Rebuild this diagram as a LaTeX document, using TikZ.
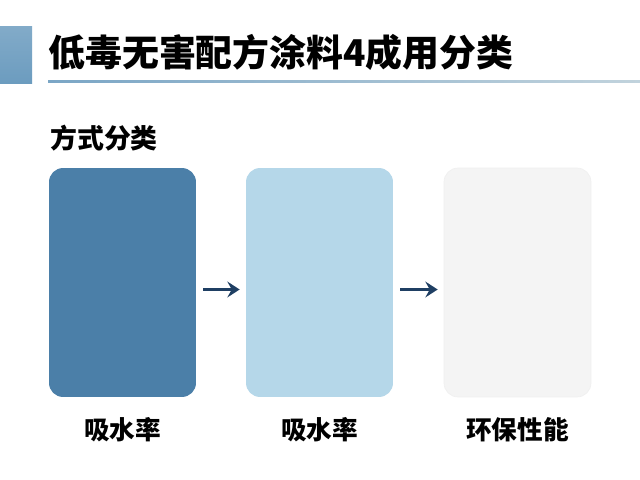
\documentclass[tikz,border=0pt]{standalone}
\usepackage{fontspec}
\newfontfamily\cjk{Noto Sans CJK SC}
\usetikzlibrary{positioning,arrows.meta,calc}
\definecolor{barblue}{HTML}{6C9CBF}
\definecolor{rulegray}{HTML}{A7C0CE}
\definecolor{deepblue}{HTML}{4B7FA8}
\definecolor{paleblue}{HTML}{B5D7E9}
\definecolor{offwhite}{HTML}{F4F4F4}
\definecolor{navy}{HTML}{1F3F63}

\begin{document}
\begin{tikzpicture}[
x=0.02cm, y=-0.02cm,
card/.style={
  rounded corners=8pt,
  minimum width=2.94cm,
  minimum height=4.58cm,
  inner sep=0pt},
caption/.style={
  font=\cjk\bfseries\fontsize{14.6pt}{17pt}\selectfont,
  text=black},
flow/.style={
  draw=navy,
  line width=1.5pt,
  -{Stealth[length=7pt,width=9pt,inset=2.5pt]},
  shorten <=0.14cm,
  shorten >=0.12cm}
]
\useasboundingbox[fill=white] (0,0) rectangle (640,480);
% header
\shade[top color=barblue!85, bottom color=barblue] (0,26) rectangle (32,83);
\node[anchor=west, inner sep=0pt,
  font=\cjk\bfseries\fontsize{21pt}{25pt}\selectfont] (title) at (48,52)
  {低毒无害配方涂料4成用分类};
\shade[left color=barblue!90, right color=rulegray!70] (48,80.5) rectangle (640,82);
\node[anchor=west, inner sep=0pt,
  font=\cjk\bfseries\fontsize{15.3pt}{18pt}\selectfont] (sub) at (50,138)
  {方式分类};
% cards
\node[card, fill=deepblue] (A) at (122.5,282.5) {};
\node[card, fill=paleblue] (B) at (319.5,282.5) {};
\node[card, fill=offwhite, draw=gray!12] (C) at (517.5,282.5) {};
\draw[flow] ($(A.east)+(0,7)$) -- ($(B.west)+(0,7)$);
\draw[flow] ($(B.east)+(0,7)$) -- ($(C.west)+(0,7)$);
% captions
\node[caption] (la) at (122.5,430) {吸水率};
\node[caption] (lb) at (319.5,430) {吸水率};
\node[caption] (lc) at (517.5,430) {环保性能};
\end{tikzpicture}
\end{document}
